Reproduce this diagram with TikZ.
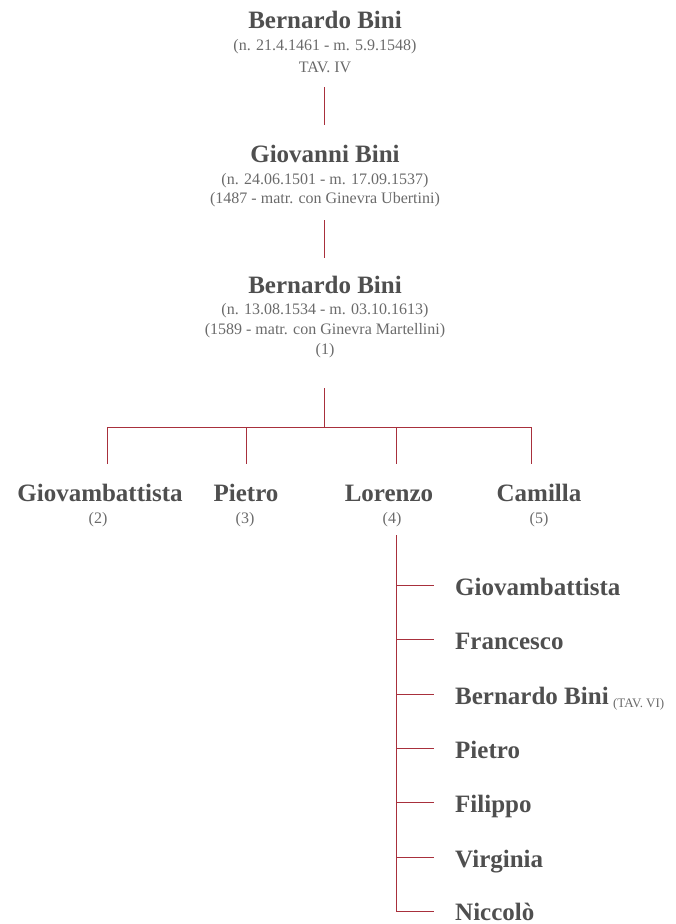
\documentclass[tikz,border=0pt]{standalone}
\usepackage{fontspec}
\setmainfont{Liberation Serif}
\usetikzlibrary{positioning}
\definecolor{binired}{HTML}{A8303C}
\definecolor{binigray}{HTML}{4F4F4F}
\definecolor{bininote}{HTML}{6A6A6A}

\begin{document}
\begin{tikzpicture}[x=1pt, y=-1pt,
  person/.style={font=\fontsize{25}{25}\selectfont\bfseries, text=binigray, inner sep=0pt, anchor=base},
  note/.style={font=\fontsize{16}{16}\selectfont, text=bininote, inner sep=0pt, anchor=base},
  child/.style={person, anchor=base west},
  link/.style={draw=binired, line width=1pt}]

\useasboundingbox (0,0) rectangle (676,924);

% first generations
\node[person] (bernA) at (325,28) {Bernardo Bini};
\node[note] (bernA-d1) at (325,50) {(n. 21.4.1461 - m. 5.9.1548)};
\node[note] (bernA-d2) at (325,72) {TAV. IV};

\node[person] (giovanni) at (325,162) {Giovanni Bini};
\node[note] (giovanni-d1) at (325,184) {(n. 24.06.1501 - m. 17.09.1537)};
\node[note] (giovanni-d2) at (325,203) {(1487 - matr. con Ginevra Ubertini)};

\node[person] (bernB) at (325,293) {Bernardo Bini};
\node[note] (bernB-d1) at (325,314) {(n. 13.08.1534 - m. 03.10.1613)};
\node[note] (bernB-d2) at (325,334) {(1589 - matr. con Ginevra Martellini)};
\node[note] (bernB-d3) at (325,354) {(1)};

% children of Bernardo
\node[person] (giovb) at (100,501) {Giovambattista};
\node[note] (giovb-d) at (98,523) {(2)};
\node[person] (pietro) at (246,501) {Pietro};
\node[note] (pietro-d) at (245,523) {(3)};
\node[person] (lorenzo) at (389,501) {Lorenzo};
\node[note] (lorenzo-d) at (392,523) {(4)};
\node[person] (camilla) at (539,501) {Camilla};
\node[note] (camilla-d) at (539,523) {(5)};

% children of Lorenzo
\node[child] (c1) at (455,595) {Giovambattista};
\node[child] (c2) at (455,649) {Francesco};
\node[child] (c3) at (455,704) {Bernardo Bini};
\node[note, anchor=base west, font=\fontsize{13}{13}\selectfont] (c3-d) [right=4pt of c3.base east] {(TAV. VI)};
\node[child] (c4) at (455,758) {Pietro};
\node[child] (c5) at (455,812) {Filippo};
\node[child] (c6) at (455,867) {Virginia};
\node[child] (c7) at (455,920) {Niccolò};

% connectors
\coordinate (bernA-out) at (324,87);
\coordinate (giovanni-in) at (324,125);
\coordinate (giovanni-out) at (324,220);
\coordinate (bernB-in) at (324,258);
\coordinate (bernB-out) at (324,388);
\coordinate (rail) at (324,427);
\coordinate (giovb-in) at (107,464);
\coordinate (pietro-in) at (246,464);
\coordinate (lorenzo-in) at (396,464);
\coordinate (camilla-in) at (531,464);
\coordinate (spine) at (396,535);

\draw[link] (bernA-out) -- (giovanni-in);
\draw[link] (giovanni-out) -- (bernB-in);
\draw[link] (bernB-out) -- (rail);
\draw[link] (giovb-in) -- (giovb-in |- rail) -- (camilla-in |- rail) -- (camilla-in);
\draw[link] (pietro-in |- rail) -- (pietro-in);
\draw[link] (lorenzo-in |- rail) -- (lorenzo-in);

\foreach \c in {c1,c2,c3,c4,c5,c6}
  \coordinate (\c-tip) at ([xshift=-21pt,yshift=10pt]\c.base west);
\coordinate (c7-tip) at ([xshift=-21pt,yshift=9pt]c7.base west);
\draw[link] (spine) -- (spine |- c7-tip) -- (c7-tip);
\foreach \c in {c1,c2,c3,c4,c5,c6}
  \draw[link] (spine |- \c-tip) -- (\c-tip);
\end{tikzpicture}
\end{document}
